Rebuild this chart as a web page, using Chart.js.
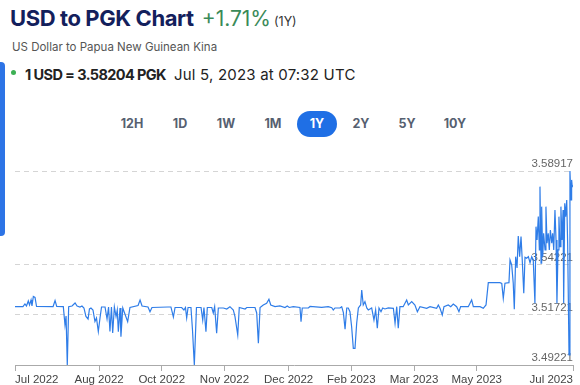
<!DOCTYPE html>
<html>
<head>
<meta charset="utf-8">
<script src="https://cdn.jsdelivr.net/npm/chart.js@4.4.0/dist/chart.umd.min.js"></script>
<style>
  body { margin: 0; width: 580px; height: 385px; background: #fff; position: relative; overflow: hidden; font-family: Inter, "Noto Sans", sans-serif; }
  .abs { position: absolute; white-space: nowrap; line-height: 1; }
  #title { top: 7px; left: 10px; }
  #title .name { font-size: 22px; font-weight: 700; color: #13205c; letter-spacing: -0.4px; }
  #title .chg { font-size: 21px; color: #3a8a58; margin-left: 8px; }
  #title .per { font-size: 12.5px; color: #333; margin-left: 3px; }
  #sub { top: 42px; left: 12px; font-size: 11.5px; color: #555; }
  #rate { top: 66px; left: 25px; color: #222; }
  #rate b { font-size: 14.5px; font-weight: 700; letter-spacing: -0.6px; }
  #rate span { font-size: 15px; letter-spacing: 0.2px; margin-left: 8px; }
  #dot { position: absolute; left: 11px; top: 70px; width: 5px; height: 5px; border-radius: 50%; background: #3cb054; }
  #bar { position: absolute; left: 0; top: 62px; width: 5px; height: 174px; background: #2d74e6; border-radius: 0 4px 4px 0; }
  .btn { position: absolute; top: 111px; width: 40px; height: 26px; line-height: 26px; text-align: center; font-size: 12.5px; font-weight: 700; color: #566070; border-radius: 13px; }
  .btn.on { background: #1f6fe5; color: #fff; }
  #wrap { position: absolute; left: 0; top: 150px; width: 580px; height: 235px; }
</style>
</head>
<body>
<div id="title" class="abs"><span class="name">USD to PGK Chart</span><span class="chg">+1.71%</span><span class="per">(1Y)</span></div>
<div id="sub" class="abs">US Dollar to Papua New Guinean Kina</div>
<div id="bar"></div>
<div id="dot"></div>
<div id="rate" class="abs"><b>1 USD = 3.58204 PGK</b><span>Jul 5, 2023 at 07:32 UTC</span></div>
<div id="btns"></div>
<div id="wrap"><canvas id="chart" width="580" height="235"></canvas></div>
<script>
// days since Jul 5 2022
const days = [
  0, 5.2, 6.5, 7.5, 8.7, 9.5, 10.5, 11.1, 12.0, 13.1, 14.1, 24.9, 26.2, 27.3, 31.6, 32.7, 33.4, 34.2, 35.1, 37.3,
  39.3, 40.6, 42.5, 43.8, 45.1, 46.4, 47.8, 48.7, 49.7, 51.0, 52.3, 53.3, 54.5, 55.6, 56.6, 58.9, 60.2, 61.2, 62.1, 63.1,
  63.9, 65.0, 66.1, 66.9, 67.6, 68.7, 69.3, 70.5, 73.7, 75.2, 80.5, 81.8, 83.1, 87.0, 88.3, 89.6, 100.1, 102.0, 103.6, 104.7,
  109.0, 110.5, 111.5, 112.3, 113.2, 115.1, 116.1, 117.3, 118.7, 121.7, 122.8, 123.6, 124.9, 125.8, 128.7, 129.7, 130.6, 131.9, 133.0, 136.3,
  138.5, 140.6, 142.8, 143.9, 145.7, 146.7, 150.5, 151.6, 157.0, 158.1, 159.2, 160.3, 162.4, 164.6, 166.1, 167.3, 170.1, 173.3, 176.6, 178.1,
  179.4, 182.0, 186.4, 187.1, 187.9, 191.9, 193.0, 200.6, 204.9, 207.2, 208.2, 209.3, 212.6, 213.7, 214.8, 215.9, 217.0, 218.0, 219.1, 220.2,
  221.3, 222.4, 223.5, 224.6, 226.1, 226.8, 227.8, 228.9, 230.1, 231.1, 233.3, 234.8, 235.9, 237.0, 238.1, 239.4, 240.5, 242.0, 244.2, 247.5,
  248.6, 249.7, 250.7, 251.8, 253.9, 256.2, 257.3, 259.5, 261.6, 263.2, 264.9, 269.3, 271.5, 275.8, 276.9, 278.0, 279.5, 280.6, 283.4, 285.0,
  286.7, 288.9, 290.4, 291.5, 296.5, 298.7, 299.8, 304.2, 306.3, 308.1, 309.6, 317.2, 318.4, 319.4, 320.5, 323.1, 323.8, 324.9, 325.9, 326.6,
  327.5, 328.4, 329.2, 330.1, 331.0, 331.8, 332.8, 333.6, 334.7, 335.8, 336.9, 338.0, 339.0, 340.1, 340.8, 341.5, 342.3, 343.0, 343.4, 344.1,
  344.5, 345.2, 345.8, 346.7, 347.3, 348.0, 348.8, 349.5, 350.2, 351.1, 351.7, 352.4, 353.2, 353.9, 354.5, 355.2, 355.8, 356.5, 357.1, 357.8,
  358.5, 358.9, 359.6, 360.2, 360.9, 361.5, 362.4, 363.0, 363.7, 364.1, 364.5, 365.0
];
const rates = [
  3.52136, 3.52136, 3.52271, 3.52171, 3.52421, 3.52221, 3.52471, 3.52171, 3.52646, 3.52596, 3.52146, 3.52136, 3.52446, 3.52146, 3.52136, 3.51221, 3.51671, 3.49221, 3.52136, 3.52171,
  3.52321, 3.52171, 3.52121, 3.52171, 3.52071, 3.51646, 3.51521, 3.52021, 3.52071, 3.51971, 3.51396, 3.51571, 3.50896, 3.51571, 3.52121, 3.52121, 3.51521, 3.52121, 3.50896, 3.52121,
  3.50821, 3.52121, 3.51636, 3.51971, 3.50886, 3.52071, 3.50636, 3.52071, 3.51386, 3.52096, 3.52196, 3.52471, 3.52171, 3.52121, 3.51886, 3.52096, 3.52121, 3.52121, 3.51621, 3.52096,
  3.52096, 3.51971, 3.52096, 3.51571, 3.52096, 3.52096, 3.50971, 3.49221, 3.52096, 3.52096, 3.51471, 3.52096, 3.50886, 3.52096, 3.52096, 3.51821, 3.52136, 3.50806, 3.52071, 3.52071,
  3.52021, 3.52136, 3.51971, 3.51636, 3.50721, 3.52096, 3.52021, 3.52096, 3.52096, 3.51821, 3.50306, 3.52096, 3.52221, 3.52306, 3.52506, 3.52221, 3.52136, 3.52171, 3.52096, 3.52171,
  3.52096, 3.52136, 3.52096, 3.51386, 3.52071, 3.52071, 3.52146, 3.52106, 3.52136, 3.52086, 3.51971, 3.52071, 3.52071, 3.52136, 3.51836, 3.51006, 3.52071, 3.52071, 3.51886, 3.51136,
  3.50056, 3.50056, 3.51306, 3.52071, 3.52221, 3.52971, 3.52221, 3.52386, 3.52071, 3.51971, 3.52071, 3.51471, 3.51971, 3.51056, 3.52071, 3.51886, 3.52071, 3.52021, 3.52071, 3.52056,
  3.51306, 3.52136, 3.51056, 3.52136, 3.52136, 3.52471, 3.52221, 3.52386, 3.52221, 3.51886, 3.52136, 3.52056, 3.52136, 3.52056, 3.52221, 3.52056, 3.51721, 3.52136, 3.52221, 3.52136,
  3.52271, 3.52136, 3.51886, 3.52136, 3.52136, 3.52471, 3.52136, 3.52136, 3.52056, 3.52221, 3.53336, 3.53336, 3.53296, 3.52556, 3.53306, 3.53336, 3.54471, 3.54221, 3.53321, 3.52006,
  3.54636, 3.54071, 3.55671, 3.54636, 3.55636, 3.54471, 3.52806, 3.54606, 3.54556, 3.54636, 3.54336, 3.54636, 3.54471, 3.52306, 3.56136, 3.55471, 3.56636, 3.54971, 3.58136, 3.54306,
  3.57136, 3.54636, 3.55806, 3.54971, 3.57136, 3.55306, 3.55806, 3.54971, 3.55971, 3.55306, 3.55806, 3.54971, 3.56971, 3.55471, 3.52306, 3.54971, 3.56636, 3.55136, 3.57136, 3.55471,
  3.56971, 3.52306, 3.57306, 3.56636, 3.57471, 3.55306, 3.49721, 3.58917, 3.57471, 3.58471, 3.58136, 3.58204
];
const tickDays = [0, 55, 96, 137, 179, 220, 261, 302, 365];
const tickLabels = ['Jul 2022', 'Aug 2022', 'Oct 2022', 'Nov 2022', 'Dec 2022', 'Feb 2023', 'Mar 2023', 'May 2023', 'Jul 2023'];
const yTicks = [3.49221, 3.51721, 3.54221, 3.58917];
const ranges = ['12H', '1D', '1W', '1M', '1Y', '2Y', '5Y', '10Y'];
const rangeX = [132, 180, 226, 273, 317, 361, 407, 455];

// range buttons
const btns = document.getElementById('btns');
ranges.forEach((r, i) => {
    const b = document.createElement('div');
    b.className = 'btn' + (r === '1Y' ? ' on' : '');
    b.style.left = (rangeX[i] - 20) + 'px';
    b.textContent = r;
    btns.appendChild(b);
});

const ctx = document.getElementById('chart').getContext('2d');
new Chart(ctx, {
    type: 'line',
    data: {
        datasets: [{
            data: days.map((d, i) => ({ x: d, y: rates[i] })),
            borderColor: '#2f7de8',
            borderWidth: 1.2,
            pointRadius: 0,
            tension: 0,
            fill: false
        }]
    },
    options: {
        responsive: false,
        animation: false,
        layout: { padding: { left: 15, right: 7, top: 21, bottom: 0 } },
        plugins: { legend: { display: false }, tooltip: { enabled: false } },
        scales: {
            x: {
                type: 'linear',
                min: 0,
                max: 365,
                afterBuildTicks: s => { s.ticks = tickDays.map(v => ({ value: v })); },
                afterFit: s => { s.height = 20; },
                ticks: {
                    autoSkip: false,
                    maxRotation: 0,
                    align: 'inner',
                    padding: 2,
                    color: '#444',
                    font: { size: 11.5, family: 'Arial' },
                    callback: (v, i) => tickLabels[i]
                },
                grid: { drawOnChartArea: false, drawTicks: true, tickLength: 6, color: '#aaa' },
                border: { display: true, color: '#aaa' }
            },
            y: {
                position: 'right',
                min: 3.49221,
                max: 3.58917,
                afterBuildTicks: s => { s.ticks = yTicks.map(v => ({ value: v })); },
                afterFit: s => { s.width = 0; },
                ticks: {
                    mirror: true,
                    padding: 0,
                    labelOffset: -7,
                    color: '#666',
                    font: { size: 11.5, family: 'Arial' },
                    callback: v => v.toFixed(5)
                },
                grid: { drawTicks: false, color: c => c.index === 0 ? 'rgba(0,0,0,0)' : '#d5d5d5' },
                border: { display: false, dash: [5, 4] }
            }
        }
    }
});
</script>
</body>
</html>
